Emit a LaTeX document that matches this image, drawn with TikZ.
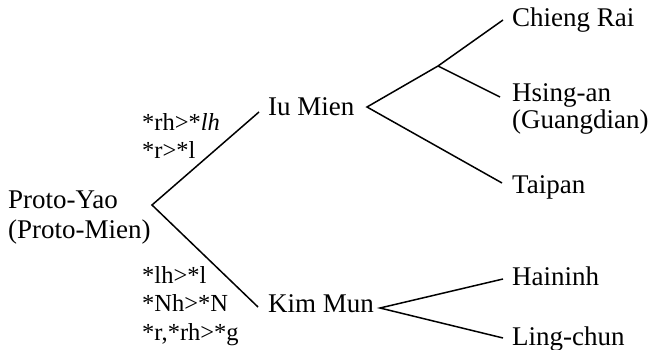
\documentclass[tikz,border=0pt]{standalone}
\usepackage{fontspec}
\setmainfont{Liberation Serif}
\begin{document}
\begin{tikzpicture}[x=1pt,y=-1pt,
  lang/.style={font=\fontsize{27}{29}\selectfont, inner sep=0pt, anchor=base west},
  chg/.style={font=\fontsize{24.5}{28.5}\selectfont, inner sep=0pt, anchor=base west},
  br/.style={line width=1.5pt}]
\useasboundingbox (0,0) rectangle (655,350);
% language nodes
\node[lang] (proto) at (8,208) {Proto-Yao};
\node[lang] (protob) at (8,238) {(Proto-Mien)};
\node[lang] (iu) at (268,116) {Iu Mien};
\node[lang] (kim) at (268,312) {Kim Mun};
\node[lang] (chieng) at (512,27) {Chieng Rai};
\node[lang] (hsing) at (512,102) {Hsing-an};
\node[lang] (hsingb) at (512,128.5) {(Guangdian)};
\node[lang] (taipan) at (512,193) {Taipan};
\node[lang] (hai) at (512,285) {Haininh};
\node[lang] (ling) at (512,345) {Ling-chun};
% sound change labels
\node[chg] (chgiua) at (142,130) {*rh>*\textit{lh}};
\node[chg] (chgiub) at (142,158) {*r>*l};
\node[chg] (chgkima) at (142,283) {*lh>*l};
\node[chg] (chgkimb) at (142,311.5) {*Nh>*N};
\node[chg] (chgkimc) at (142,340) {*r,*rh>*g};
% branch points
\coordinate (vroot) at (152,205);
\coordinate (viu) at (367,107);
\coordinate (vfork) at (438,66);
\coordinate (vkim) at (380,308);
\coordinate (eiu) at (259,112);
\coordinate (ekim) at (258,307);
\coordinate (echieng) at (503,20);
\coordinate (ehsing) at (500,97);
\coordinate (etaipan) at (502,183);
\coordinate (ehai) at (503,279);
\coordinate (eling) at (503,338);
% branches
\draw[br] (eiu) -- (vroot) -- (ekim);
\draw[br] (echieng) -- (vfork) -- (viu) -- (etaipan);
\draw[br] (vfork) -- (ehsing);
\draw[br] (ehai) -- (vkim) -- (eling);
\end{tikzpicture}
\end{document}
